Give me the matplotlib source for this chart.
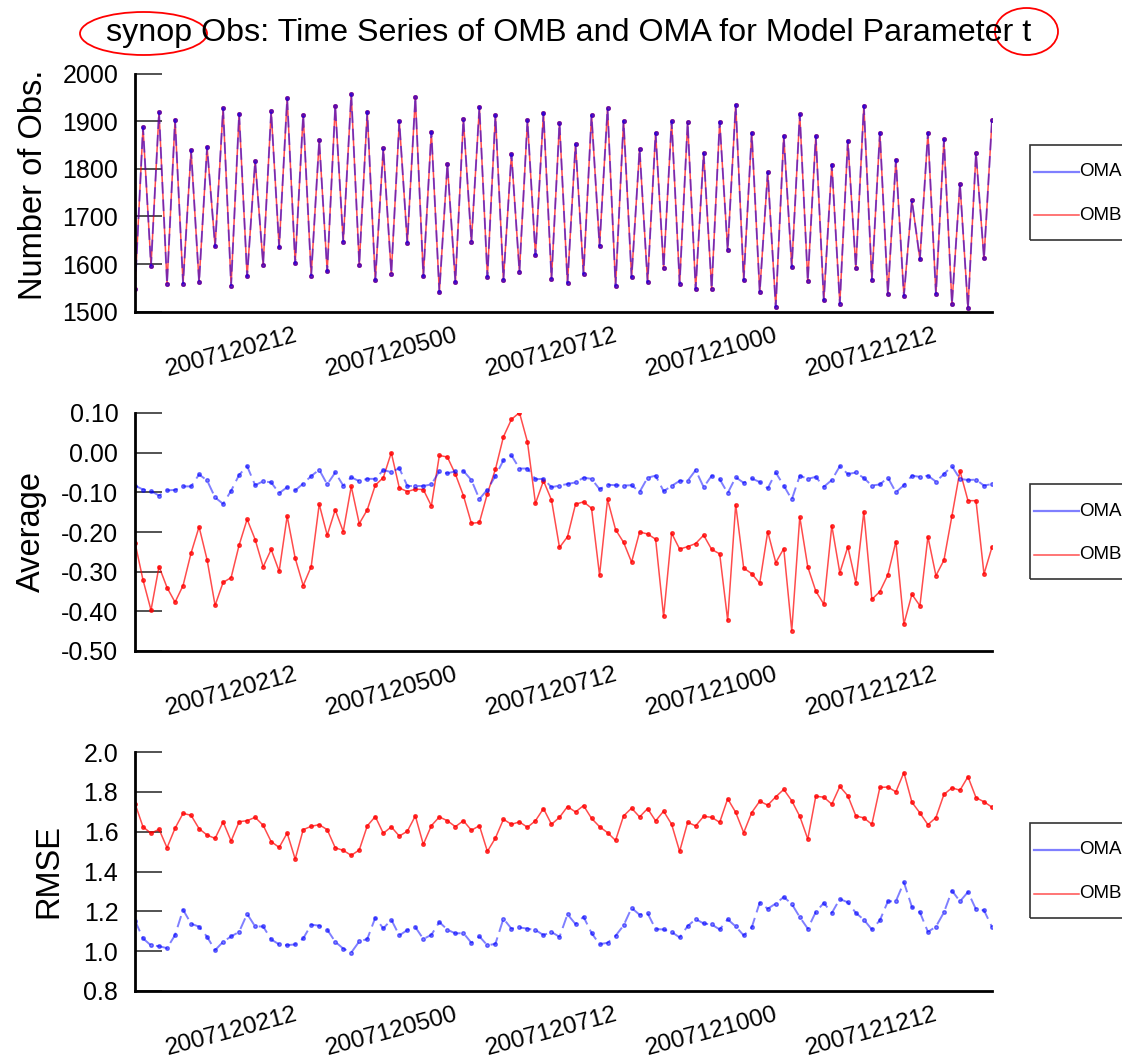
import numpy as np
import pandas as pd
import matplotlib
matplotlib.use("Agg")
import matplotlib.pyplot as plt
from matplotlib.patches import Ellipse, Rectangle
from matplotlib.lines import Line2D

plt.rcParams['font.family'] = ['Liberation Sans', 'DejaVu Sans']

# 3-hourly analysis times
times = pd.date_range("2007-12-01 00:00", periods=108, freq="3h")
tick_labels = ["2007120212", "2007120500", "2007120712", "2007121000", "2007121212"]

# number of synop observations (OMA and OMB identical)
nobs = [1548, 1887, 1596, 1920, 1559, 1903, 1559, 1839, 1562, 1846,
        1637, 1927, 1555, 1916, 1574, 1817, 1599, 1921, 1635, 1948,
        1602, 1914, 1576, 1860, 1585, 1932, 1647, 1957, 1599, 1920,
        1566, 1843, 1580, 1900, 1645, 1950, 1574, 1878, 1541, 1810,
        1562, 1904, 1647, 1930, 1573, 1913, 1567, 1831, 1584, 1902,
        1619, 1918, 1569, 1897, 1560, 1852, 1579, 1913, 1638, 1927,
        1554, 1901, 1572, 1842, 1562, 1876, 1592, 1900, 1559, 1898,
        1548, 1833, 1548, 1899, 1629, 1935, 1566, 1876, 1541, 1793,
        1510, 1869, 1594, 1915, 1564, 1869, 1524, 1809, 1517, 1859,
        1592, 1933, 1567, 1876, 1537, 1819, 1533, 1734, 1610, 1876,
        1537, 1862, 1516, 1769, 1507, 1833, 1612, 1903]

avg_oma = [-0.083, -0.093, -0.097, -0.108, -0.095, -0.094, -0.085, -0.085, -0.055, -0.070,
           -0.113, -0.129, -0.096, -0.056, -0.034, -0.082, -0.072, -0.075, -0.102, -0.087,
           -0.095, -0.078, -0.059, -0.043, -0.080, -0.050, -0.083, -0.062, -0.072, -0.066,
           -0.066, -0.044, -0.049, -0.039, -0.084, -0.084, -0.084, -0.080, -0.047, -0.052,
           -0.047, -0.046, -0.069, -0.117, -0.093, -0.059, -0.019, -0.007, -0.040, -0.040,
           -0.067, -0.066, -0.087, -0.083, -0.079, -0.075, -0.063, -0.066, -0.092, -0.081,
           -0.082, -0.083, -0.082, -0.099, -0.063, -0.058, -0.097, -0.084, -0.071, -0.071,
           -0.044, -0.087, -0.058, -0.067, -0.102, -0.062, -0.076, -0.065, -0.074, -0.090,
           -0.050, -0.083, -0.118, -0.058, -0.066, -0.061, -0.086, -0.069, -0.034, -0.054,
           -0.050, -0.064, -0.083, -0.080, -0.063, -0.100, -0.082, -0.058, -0.061, -0.058,
           -0.073, -0.054, -0.034, -0.066, -0.069, -0.068, -0.083, -0.079]

avg_omb = [-0.227, -0.321, -0.397, -0.287, -0.340, -0.377, -0.335, -0.253, -0.187, -0.270,
           -0.385, -0.327, -0.315, -0.233, -0.168, -0.219, -0.288, -0.244, -0.299, -0.160,
           -0.266, -0.335, -0.287, -0.130, -0.208, -0.144, -0.199, -0.085, -0.179, -0.144,
           -0.082, -0.063, 0.000, -0.089, -0.098, -0.092, -0.093, -0.134, -0.007, -0.011,
           -0.054, -0.108, -0.178, -0.176, -0.103, -0.042, 0.040, 0.084, 0.101, 0.027,
           -0.128, -0.071, -0.119, -0.239, -0.212, -0.130, -0.124, -0.140, -0.309, -0.118,
           -0.194, -0.226, -0.276, -0.200, -0.205, -0.218, -0.413, -0.203, -0.243, -0.237,
           -0.229, -0.208, -0.244, -0.255, -0.423, -0.131, -0.291, -0.305, -0.329, -0.199,
           -0.277, -0.242, -0.449, -0.162, -0.288, -0.349, -0.382, -0.184, -0.303, -0.237,
           -0.328, -0.149, -0.370, -0.350, -0.308, -0.224, -0.432, -0.357, -0.386, -0.212,
           -0.310, -0.271, -0.159, -0.046, -0.121, -0.121, -0.306, -0.238]

rmse_oma = [1.153, 1.064, 1.029, 1.025, 1.015, 1.081, 1.208, 1.138, 1.123, 1.072,
            1.005, 1.047, 1.074, 1.097, 1.187, 1.124, 1.124, 1.059, 1.034, 1.030,
            1.034, 1.064, 1.133, 1.128, 1.108, 1.047, 1.013, 0.993, 1.049, 1.061,
            1.168, 1.114, 1.158, 1.079, 1.106, 1.121, 1.061, 1.082, 1.146, 1.108,
            1.089, 1.091, 1.042, 1.074, 1.029, 1.037, 1.163, 1.113, 1.119, 1.113,
            1.106, 1.081, 1.096, 1.072, 1.185, 1.136, 1.173, 1.091, 1.035, 1.042,
            1.077, 1.129, 1.217, 1.183, 1.190, 1.111, 1.109, 1.096, 1.069, 1.126,
            1.161, 1.139, 1.134, 1.109, 1.160, 1.124, 1.079, 1.119, 1.244, 1.213,
            1.239, 1.272, 1.237, 1.171, 1.113, 1.197, 1.242, 1.192, 1.262, 1.245,
            1.192, 1.158, 1.109, 1.155, 1.250, 1.251, 1.346, 1.222, 1.195, 1.097,
            1.123, 1.195, 1.304, 1.250, 1.297, 1.210, 1.205, 1.121]

rmse_omb = [1.741, 1.624, 1.592, 1.612, 1.519, 1.617, 1.692, 1.682, 1.615, 1.583,
            1.566, 1.649, 1.553, 1.650, 1.655, 1.672, 1.632, 1.550, 1.521, 1.593,
            1.462, 1.610, 1.627, 1.635, 1.610, 1.519, 1.506, 1.481, 1.508, 1.629,
            1.676, 1.592, 1.624, 1.578, 1.602, 1.679, 1.536, 1.630, 1.674, 1.655,
            1.625, 1.655, 1.607, 1.630, 1.501, 1.568, 1.662, 1.637, 1.649, 1.622,
            1.655, 1.716, 1.637, 1.672, 1.726, 1.699, 1.731, 1.667, 1.625, 1.595,
            1.556, 1.679, 1.718, 1.674, 1.716, 1.654, 1.703, 1.637, 1.501, 1.647,
            1.629, 1.677, 1.672, 1.647, 1.765, 1.697, 1.595, 1.696, 1.753, 1.733,
            1.775, 1.812, 1.755, 1.677, 1.563, 1.778, 1.773, 1.738, 1.827, 1.780,
            1.679, 1.669, 1.637, 1.822, 1.824, 1.800, 1.897, 1.748, 1.694, 1.635,
            1.671, 1.787, 1.820, 1.808, 1.876, 1.771, 1.750, 1.723]

W, H = 1122, 1063
fig = plt.figure(figsize=(W / 100, H / 100), dpi=100)

def px(x0, y0, x1, y1):
    # pixel box (top-left origin) -> figure rect
    return [x0 / W, 1 - y1 / H, (x1 - x0) / W, (y1 - y0) / H]

panels = [
    dict(rect=px(135, 73.7, 992, 311.7), ylab="Number of Obs.", ylim=(1500, 2000),
         yt=np.arange(1500, 2001, 100), fmt="%d", oma=nobs, omb=nobs, labx=-0.118, laby=0.535),
    dict(rect=px(135, 413, 992, 651), ylab="Average", ylim=(-0.5, 0.1),
         yt=np.arange(-0.5, 0.101, 0.1), fmt="%.2f", oma=avg_oma, omb=avg_omb, labx=-0.121, laby=0.5),
    dict(rect=px(135, 752, 992, 991), ylab="RMSE", ylim=(0.8, 2.0),
         yt=np.arange(0.8, 2.001, 0.2), fmt="%.1f", oma=rmse_oma, omb=rmse_omb, labx=-0.1, laby=0.5),
]

lab_str = [t.strftime("%Y%m%d%H") for t in times]
tick_pos = [times[lab_str.index(s)] for s in tick_labels]

for p in panels:
    ax = fig.add_axes(p["rect"])
    ax.plot(times, p["omb"], color="red", lw=1.1, alpha=0.7,
            marker="o", ms=2.6, mfc="red", mec="red")
    ax.plot(times, p["oma"], color="blue", lw=1.4, alpha=0.5, dashes=(6, 3),
            marker="o", ms=2.6, mfc="blue", mec="blue")
    ax.set_xlim(times[0], times[-1])
    ax.set_ylim(*p["ylim"])
    ax.set_yticks(p["yt"])
    ax.set_yticklabels([p["fmt"] % (round(v, 6) + 0.0) for v in p["yt"]])
    ax.set_xticks(tick_pos)
    ax.set_xticklabels(tick_labels, rotation=15, ha="center", va="top")
    ax.tick_params(axis="x", length=0, pad=9, labelsize=17.5)
    ax.tick_params(axis="y", direction="in", length=19.5, width=1.3,
                   color="#444444", pad=12, labelsize=18)
    for s in ["top", "right"]:
        ax.spines[s].set_visible(False)
    for s in ["left", "bottom"]:
        ax.spines[s].set_linewidth(2)
        ax.spines[s].set_color("black")
    ax.set_ylabel(p["ylab"], fontsize=23.5, va="center")
    ax.yaxis.set_label_coords(p["labx"], p["laby"])

    # legend box at the right, clipped by the figure edge
    top_px = (1 - p["rect"][1] - p["rect"][3]) * H + 71
    fig.patches.append(Rectangle((1030 / W, 1 - (top_px + 95) / H), 120 / W, 95 / H,
                                 transform=fig.transFigure, fill=False,
                                 edgecolor="#333333", lw=1.2))
    for k, (lab, col, lw) in enumerate([("OMA", "#7f7fff", 1.6), ("OMB", "#ff5050", 1.1)]):
        yy = 1 - (top_px + 27 + 43.5 * k) / H
        fig.lines.append(Line2D([1034 / W, 1079 / W], [yy, yy], transform=fig.transFigure,
                                color=col, lw=lw))
        fig.text(1079 / W, yy, lab, fontsize=13.5, va="center", ha="left")

fig.text(569 / W, 1 - 33 / H, "synop Obs: Time Series of OMB and OMA for Model Parameter t",
         fontsize=23.2, ha="center", va="center")
fig.patches.append(Ellipse((143.5 / W, 1 - 33.5 / H), 127 / W, 43 / H, transform=fig.transFigure,
                           fill=False, edgecolor="red", lw=1.3))
fig.patches.append(Ellipse((1026.5 / W, 1 - 31.5 / H), 63 / W, 47 / H, transform=fig.transFigure,
                           fill=False, edgecolor="red", lw=1.3))

fig.savefig("out.png", dpi=100)
